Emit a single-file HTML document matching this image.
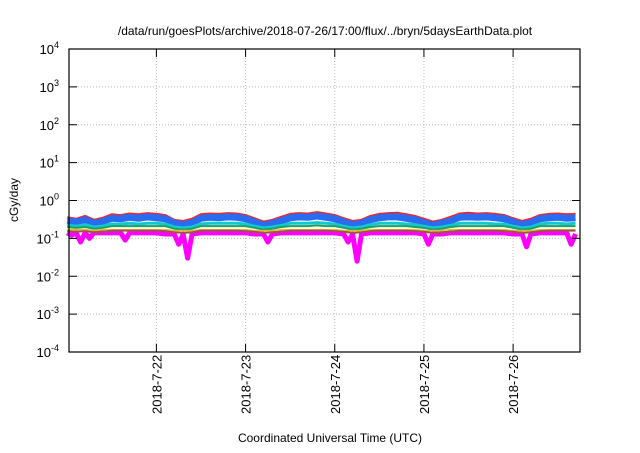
<!DOCTYPE html>
<html><head><meta charset="utf-8"><style>
body{margin:0;background:#fff;width:640px;height:448px;overflow:hidden;font-family:"Liberation Sans",sans-serif}
svg text{font-family:"Liberation Sans",sans-serif;fill:#000}
</style></head><body>
<svg id="chart" width="640" height="448">
<text x="325" y="35" font-size="12" text-anchor="middle">/data/run/goesPlots/archive/2018-07-26/17:00/flux/../bryn/5daysEarthData.plot</text>
<text x="330" y="442" font-size="12" text-anchor="middle">Coordinated Universal Time (UTC)</text>
<text transform="translate(18,200) rotate(-90)" font-size="12" text-anchor="middle">cGy/day</text>
<g id="grid"></g><g id="series"></g><g id="axes"></g>
</svg>
<script>
const days=[21.0,21.1,21.2,21.3,21.4,21.5,21.6,21.7,21.8,21.9,22.0,22.1,22.2,22.3,22.4,22.5,22.6,22.7,22.8,22.9,23.0,23.1,23.2,23.3,23.4,23.5,23.6,23.7,23.8,23.9,24.0,24.1,24.2,24.3,24.4,24.5,24.6,24.7,24.8,24.9,25.0,25.1,25.2,25.3,25.4,25.5,25.6,25.7,25.8,25.9,26.0,26.1,26.2,26.3,26.4,26.5,26.6,26.7];
const mdays=[21.0,21.05,21.1,21.15,21.2,21.25,21.3,21.4,21.5,21.6,21.65,21.7,21.8,21.9,22.0,22.1,22.2,22.25,22.3,22.35,22.4,22.5,22.6,22.7,22.8,22.9,23.0,23.1,23.2,23.25,23.3,23.4,23.5,23.6,23.7,23.8,23.9,24.0,24.1,24.15,24.2,24.25,24.3,24.4,24.5,24.6,24.7,24.8,24.9,25.0,25.05,25.1,25.2,25.3,25.4,25.5,25.6,25.7,25.8,25.9,26.0,26.1,26.15,26.2,26.3,26.4,26.5,26.6,26.65,26.7];
const red=[.35,.32,.38,.3,.34,.42,.4,.44,.42,.45,.43,.4,.3,.28,.32,.42,.44,.43,.45,.44,.4,.33,.27,.3,.36,.43,.45,.44,.48,.44,.4,.33,.28,.3,.38,.43,.45,.46,.42,.38,.32,.27,.3,.36,.44,.46,.44,.45,.43,.4,.33,.28,.32,.4,.43,.44,.42,.43];
const blue=[.29,.27,.31,.25,.28,.34,.33,.36,.34,.37,.35,.33,.25,.23,.26,.34,.36,.35,.37,.36,.33,.27,.22,.25,.29,.35,.37,.36,.39,.36,.33,.27,.23,.25,.31,.35,.37,.37,.34,.31,.26,.22,.25,.29,.36,.37,.36,.37,.35,.33,.27,.23,.26,.33,.35,.36,.34,.35];
const cyan=[.22,.21,.23,.2,.21,.24,.24,.25,.24,.25,.25,.24,.2,.19,.2,.24,.25,.25,.25,.25,.24,.21,.19,.2,.22,.25,.25,.25,.26,.25,.24,.21,.19,.2,.23,.25,.25,.25,.24,.23,.21,.19,.2,.22,.25,.25,.25,.25,.24,.24,.21,.19,.2,.24,.25,.25,.24,.25];
const green=[.2,.19,.2,.18,.19,.21,.21,.21,.21,.21,.21,.21,.18,.17,.18,.21,.21,.21,.21,.21,.21,.19,.17,.18,.2,.21,.21,.21,.22,.21,.21,.19,.17,.18,.2,.21,.21,.21,.21,.2,.19,.17,.18,.2,.21,.21,.21,.21,.21,.21,.19,.17,.18,.21,.21,.21,.21,.21];
const yellow=[.17,.17,.17,.16,.17,.17,.17,.17,.17,.17,.17,.17,.16,.16,.16,.17,.17,.17,.17,.17,.17,.16,.16,.16,.17,.17,.17,.17,.17,.17,.17,.16,.16,.16,.17,.17,.17,.17,.17,.17,.16,.16,.16,.17,.17,.17,.17,.17,.17,.17,.16,.16,.16,.17,.17,.17,.17,.17];
const brown=[.155,.15,.155,.145,.15,.16,.16,.16,.16,.16,.16,.155,.145,.14,.145,.16,.16,.16,.16,.16,.155,.15,.14,.145,.15,.16,.16,.16,.16,.16,.155,.15,.14,.145,.155,.16,.16,.16,.16,.155,.15,.14,.145,.15,.16,.16,.16,.16,.16,.155,.15,.14,.145,.155,.16,.16,.16,.16];
const magenta=[.14,.12,.14,.08,.14,.1,.14,.14,.14,.14,.09,.14,.14,.14,.14,.13,.13,.07,.13,.03,.13,.14,.14,.14,.14,.14,.14,.13,.13,.08,.13,.14,.14,.14,.14,.14,.14,.14,.13,.08,.13,.025,.13,.14,.14,.14,.14,.14,.14,.13,.07,.13,.13,.14,.14,.14,.14,.14,.14,.14,.13,.13,.06,.13,.14,.14,.14,.14,.07,.13];
const yTicks=[4,3,2,1,0,-1,-2,-3,-4];
const xTicks=[22,23,24,25,26];
const X0=69,X1=580,Y0=49,Y1=352,D0=21.02,D1=26.75;
const xs=d=>X0+(d-D0)/(D1-D0)*(X1-X0);
const ys=v=>Y0+(4-Math.log10(v))/8*(Y1-Y0);
const NS="http://www.w3.org/2000/svg";
function mk(tag,attrs,parent){const e=document.createElementNS(NS,tag);for(const k in attrs)e.setAttribute(k,attrs[k]);parent.appendChild(e);return e;}
const G=document.getElementById('grid'),S=document.getElementById('series'),A=document.getElementById('axes');
yTicks.forEach(p=>{const y=Y0+(4-p)/8*(Y1-Y0);
 if(p<4&&p>-4){const l=mk('line',{x1:X0,x2:X1,y1:y,y2:y,stroke:'#bbb','stroke-dasharray':'1,2'},G);
 
 }
 mk('line',{x1:X0,x2:X0+8,y1:y,y2:y,stroke:'#000'},A);mk('line',{x1:X1-8,x2:X1,y1:y,y2:y,stroke:'#000'},A);
 const t=mk('text',{x:X0-10,y:y+5,'font-size':13,'text-anchor':'end'},A);
 
 
 t.innerHTML='10<tspan dy="-6" font-size="9">'+p+'</tspan>';});
xTicks.forEach(d=>{const x=xs(d);
 const l=mk('line',{x1:x,x2:x,y1:Y0,y2:Y1,stroke:'#bbb','stroke-dasharray':'1,2'},G);
 
 
 mk('line',{x1:x,x2:x,y1:Y1-8,y2:Y1,stroke:'#000'},A);mk('line',{x1:x,x2:x,y1:Y0,y2:Y0+8,stroke:'#000'},A);
 const t=mk('text',{transform:`translate(${x+5},${Y1+62}) rotate(-90)`,'font-size':13},A);
 
 
 t.textContent='2018-7-'+d;});
const fr=mk('rect',{x:X0,y:Y0,width:X1-X0,height:Y1-Y0,fill:'none',stroke:'#000','stroke-width':1.2},A);


[[magenta,mdays,'#ff00ff',5,'series-magenta'],[red,days,'#ff2020',3,'series-red'],[blue,days,'#2a6cf0',7,'series-blue'],[cyan,days,'#10c8d0',3,'series-cyan'],[green,days,'#20a060',2,'series-green'],[yellow,days,'#e0c020',1.5,'series-yellow'],[brown,days,'#a05050',2,'series-brown']].forEach(([arr,dd,c,w,n])=>{
 const p=mk('polyline',{points:arr.map((v,i)=>xs(dd[i])+','+ys(v)).join(' '),fill:'none',stroke:c,'stroke-width':w,'stroke-linejoin':'round'},S);
 
 });
</script>
</body></html>
